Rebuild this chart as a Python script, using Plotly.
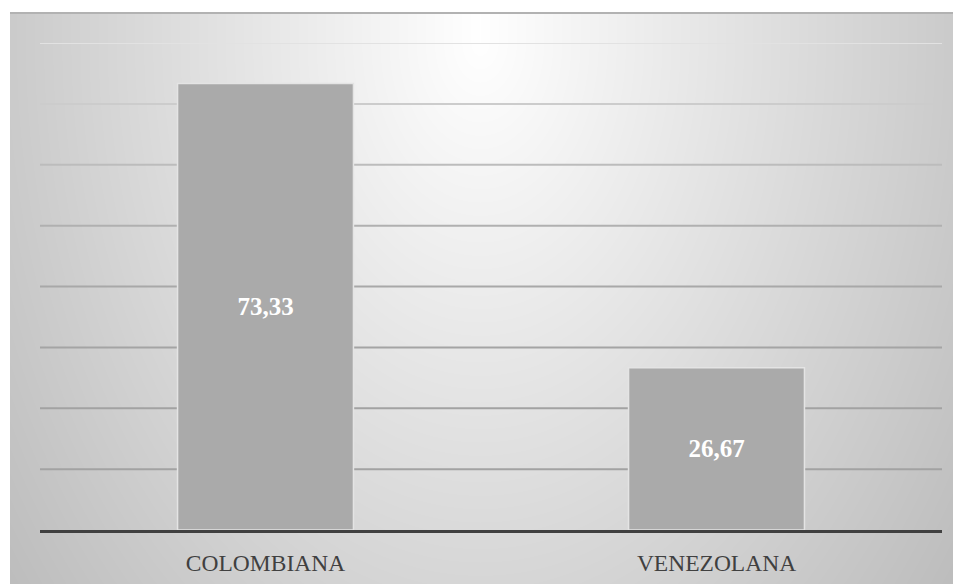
import base64, struct, zlib
import numpy as np
import plotly.graph_objects as go

categories = ["COLOMBIANA", "VENEZOLANA"]
values = [73.33, 26.67]
grid_values = [10, 20, 30, 40, 50, 60, 70, 80]
grid_colors = ["#a2a2a2", "#a2a2a2", "#a4a4a4", "#a8a8a8", "#b0b0b0", "#bcbcbc", "#cccccc", "#e2e2e2"]

# background gradient image (styling only)
W, H = 943, 600
yy, xx = np.mgrid[0:H, 0:W].astype(float)
dx = (xx - 470) * 0.11
dy = np.clip(yy - 30, 0, None) * 0.075
drop = np.sqrt(dx ** 2 + dy ** 2)
img = np.clip(255 - drop, 180, 255)
img[0:2, :] = 178
img = img.astype(np.uint8)

def png_bytes(a):
    h, w = a.shape
    raw = b"".join(b"\x00" + a[i].tobytes() for i in range(h))
    def chunk(t, d):
        c = struct.pack(">I", len(d)) + t + d
        return c + struct.pack(">I", zlib.crc32(t + d) & 0xffffffff)
    return (b"\x89PNG\r\n\x1a\n" + chunk(b"IHDR", struct.pack(">IIBBBBB", w, h, 8, 0, 0, 0, 0))
            + chunk(b"IDAT", zlib.compress(raw, 9)) + chunk(b"IEND", b""))

src = "data:image/png;base64," + base64.b64encode(png_bytes(img)).decode()

L, T, R, B = 40, 43, 17, 54
pw, ph = 959 - L - R, 584 - T - B

fig = go.Figure()
fig.add_trace(go.Bar(
    x=categories, y=values, width=0.39,
    marker=dict(color="#aaaaaa", line=dict(color="#e4e4e4", width=1.5)),
    texttemplate="%{y:.2f}", textposition="inside", insidetextanchor="middle",
    textfont=dict(family="Liberation Serif", size=25, color="white", weight="bold"),
    hoverinfo="skip",
))

shapes = []
for v, c in zip(grid_values, grid_colors):
    shapes.append(dict(type="line", xref="paper", yref="y", x0=0, x1=1, y0=v, y1=v,
                       line=dict(color=c, width=2), layer="below"))

fig.update_layout(
    width=959, height=584,
    margin=dict(l=L, r=R, t=T, b=B, pad=0, autoexpand=False),
    paper_bgcolor="white", plot_bgcolor="rgba(0,0,0,0)",
    showlegend=False, separators=",.",
    shapes=shapes,
    images=[dict(source=src, xref="paper", yref="paper",
                 x=(10 - L) / pw, y=1 + (T - 12) / ph,
                 sizex=W / pw, sizey=H / ph, sizing="stretch",
                 xanchor="left", yanchor="top", layer="below")],
    xaxis=dict(showgrid=False, showline=True, linecolor="#404040", linewidth=3,
               ticks="", ticklabelstandoff=10, automargin=False,
               tickfont=dict(family="Liberation Serif", size=23.5, color="#404040")),
    yaxis=dict(range=[0, 80], showgrid=False, zeroline=False, showticklabels=False,
               ticks="", automargin=False),
)
fig.write_html("out.html", config={"displayModeBar": False},
               post_script="document.body.style.margin='0';document.body.style.overflow='hidden';")
